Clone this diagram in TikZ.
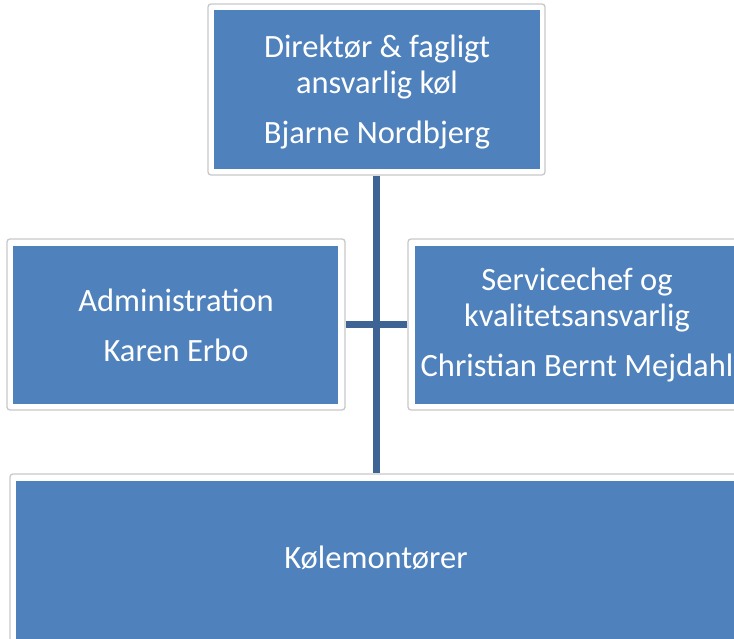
\documentclass[tikz,border=0pt]{standalone}
\usepackage{fontspec}
\setmainfont{Carlito}
\definecolor{boxblue}{HTML}{4F81BD}
\definecolor{connblue}{HTML}{3D6494}
\definecolor{framegray}{HTML}{C8C8C8}
\begin{document}
\begin{tikzpicture}[x=1pt,y=-1pt,
  frame/.style={draw=framegray,fill=white,line width=1.3pt,rounded corners=3pt,inner sep=0pt,minimum width=#1},
  blue/.style={fill=boxblue,draw=none,inner sep=0pt},
  txt/.style={inner sep=0pt,text=white,align=center,font=\fontsize{32.5}{35.5}\selectfont},
  conn/.style={draw=connblue,line width=7pt}]
\useasboundingbox (0,0) rectangle (734,639);
% frames
\node[frame=337pt,minimum height=171pt] (topf) at (376.5,89.5) {};
\node[frame=338pt,minimum height=171pt] (leftf) at (176,324.5) {};
\node[frame=360pt,minimum height=171pt] (rightf) at (588,324.5) {};
\node[frame=750pt,minimum height=190pt] (botf) at (385,569) {};
% connectors
\draw[conn] (topf.south) -- (topf.south |- botf.north);
\draw[conn] (leftf.east) -- (rightf.west);
% blue boxes
\node[blue,minimum width=326pt,minimum height=159pt] (top) at (377,89.5) {};
\node[blue,minimum width=325pt,minimum height=158pt] (left) at (175.5,325) {};
\node[blue,minimum width=346pt,minimum height=158pt] (right) at (588,325) {};
\node[blue,minimum width=738pt,minimum height=180pt] (bot) at (385,571) {};
% texts
\node[txt] (toptxt) at (377,92.5) {Direktør \& fagligt\\ansvarlig køl\\[15pt]Bjarne Nordbjerg};
\node[txt] (lefttxt) at (176,325.5) {Administration\\[15pt]Karen Erbo};
\node[txt] (righttxt) at (577,325.5) {Servicechef og\\kvalitetsansvarlig\\[15pt]Christian Bernt Mejdahl};
\node[txt] (bottxt) at (376,558) {Kølemontører};
\end{tikzpicture}
\end{document}
